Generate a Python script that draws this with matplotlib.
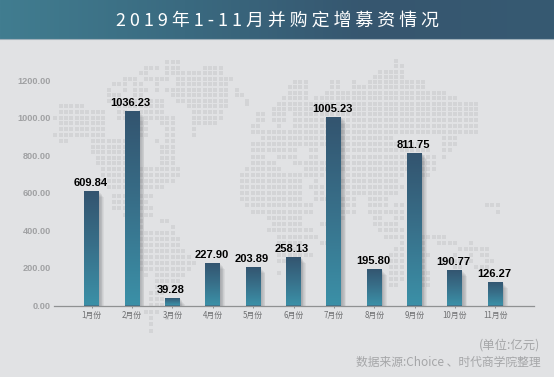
import numpy as np
import matplotlib
matplotlib.use("Agg")
import matplotlib.pyplot as plt
from matplotlib.colors import LinearSegmentedColormap

categories = ["1月份", "2月份", "3月份", "4月份", "5月份", "6月份", "7月份", "8月份", "9月份", "10月份", "11月份"]
values = [609.84, 1036.23, 39.28, 227.90, 203.89, 258.13, 1005.23, 195.80, 811.75, 190.77, 126.27]
labels = ["609.84", "1036.23", "39.28", "227.90", "203.89", "258.13", "1005.23", "195.80", "811.75", "190.77", "126.27"]
yticks = [0, 200, 400, 600, 800, 1000, 1200]
title = "2 0 1 9 年 1 - 1 1 月 并 购 定 增 募 资 情 况"
unit_note = "(单位:亿元)"
source_note = "数据来源:Choice 、时代商学院整理"

# decorative dot-matrix world map: (row y, spans of x), in image pixels
map_rows = [
    (60.7, [(163, 182)]), (66, [(143, 160), (163, 182), (205, 224)]),
    (71.7, [(137, 150), (163, 224)]), (77, [(122, 135), (143, 167), (175, 235)]),
    (82.5, [(111, 125), (132, 140), (153, 160), (175, 230)]),
    (88, [(106, 112), (122, 125), (132, 147), (153, 157), (163, 230), (236, 238)]),
    (93.5, [(106, 120), (132, 140), (170, 171), (178, 230), (236, 243)]),
    (99, [(106, 112), (117, 165), (178, 230), (247, 248)]),
    (104.5, [(58, 83), (117, 165), (185, 230)]),
    (110, [(58, 107), (117, 124), (140, 165), (190, 225)]),
    (116, [(53, 107), (117, 128), (145, 172), (190, 220)]),
    (121.5, [(58, 107), (140, 150), (158, 172), (190, 215)]),
    (127, [(58, 107), (140, 150), (163, 177), (190, 197)]),
    (133, [(53, 107), (140, 150), (163, 177), (190, 197)]),
    (139, [(58, 66), (90, 124), (153, 154), (163, 172)]),
    (145, [(90, 124), (158, 172)]), (150.5, [(90, 124), (158, 172)]),
    (156, [(95, 124), (158, 172)]), (161, [(95, 124), (158, 177)]),
    (167, [(100, 124), (140, 182)]), (173, [(100, 124), (140, 182)]),
    (179, [(100, 124), (140, 172)]), (185, [(107, 124), (140, 165)]),
    (194.5, [(110, 124), (140, 155)]), (200.5, [(110, 124), (140, 150)]),
    (206.5, [(110, 124), (140, 155)]), (213, [(120, 124), (140, 155)]),
    (219, [(140, 145), (158, 167)]), (225, [(140, 145), (168, 169)]),
    (231, [(140, 172)]), (237, [(140, 182)]), (243, [(140, 182)]),
    (249, [(140, 187)]), (255, [(140, 192)]), (261, [(140, 197)]),
    (267, [(140, 192)]), (273, [(143, 144), (153, 187)]), (279, [(153, 182)]),
    (285, [(153, 182)]), (291, [(148, 165)]), (297, [(148, 165)]), (303, [(148, 165)]),
    (310, [(143, 157)]), (316, [(148, 149), (165, 166)]), (322, [(148, 149)]), (329, [(148, 155)]),
    # Eurasia / Africa / Australia
    (59, [(393, 394)]), (64, [(392, 403)]), (70, [(377, 405)]), (75, [(372, 405)]),
    (80, [(292, 307), (329, 339), (350, 351), (367, 423)]),
    (85.6, [(287, 307), (329, 339), (350, 423)]),
    (91, [(287, 310), (325, 449)]), (96.5, [(282, 308), (312, 459)]),
    (102, [(247, 248), (277, 480)]), (107, [(271, 480)]),
    (112.5, [(256, 265), (271, 285), (292, 480)]), (118, [(256, 265), (271, 285), (292, 480)]),
    (124, [(251, 260), (277, 278), (292, 480)]), (130, [(251, 480)]),
    (136, [(261, 395), (445, 457)]), (142, [(251, 420), (445, 457)]),
    (148, [(251, 297), (308, 318), (340, 430), (445, 452)]),
    (155, [(251, 265), (277, 297), (308, 318), (340, 435), (445, 447)]),
    (161, [(251, 275), (292, 437)]), (167, [(245, 280), (302, 437)]),
    (173, [(240, 325), (345, 405), (423, 430)]),
    (179, [(240, 300), (312, 318), (340, 400)]),
    (185, [(240, 300), (308, 325), (340, 405)]),
    (191, [(240, 300), (315, 325), (345, 400)]),
    (197, [(241, 305), (315, 330), (342, 358), (370, 390)]),
    (203, [(247, 315), (342, 355), (366, 390), (397, 405), (487, 500)]),
    (210, [(252, 315), (342, 358), (366, 405), (497, 498)]),
    (216, [(267, 305), (342, 345), (372, 380), (392, 405)]),
    (222, [(271, 305), (320, 330), (372, 398)]),
    (228, [(266, 315), (380, 405)]),
    (235, [(277, 317), (382, 405), (423, 445)]),
    (241, [(277, 300), (320, 327), (402, 405), (423, 424), (435, 436), (445, 455), (467, 468)]),
    (247, [(277, 300), (397, 405), (423, 424), (457, 490)]),
    (253, [(277, 315), (388, 405), (423, 430), (455, 456), (467, 468), (480, 490)]),
    (259, [(277, 302), (388, 405), (423, 424), (445, 475), (485, 495)]),
    (265, [(388, 405), (423, 424), (452, 460), (475, 490)]),
    (271, [(277, 281), (388, 405), (423, 433)]),
    (277, [(388, 405), (423, 433)]),
    (283, [(388, 400), (423, 433)]),
]

W, H = 554, 377
plt.rcParams["font.family"] = ["Noto Sans CJK SC", "DejaVu Sans"]
fig = plt.figure(figsize=(W / 100, H / 100), dpi=100, facecolor="#e1e2e4")

bg = fig.add_axes([0, 0, 1, 1])
bg.set_xlim(0, W)
bg.set_ylim(H, 0)
bg.axis("off")
bar_cmap = LinearSegmentedColormap.from_list("hdr", ["#417d90", "#3a6a80", "#36566f", "#375a72"])
bg.imshow(np.linspace(0, 1, 256)[None, :], extent=(0, W, 39, 0), cmap=bar_cmap, aspect="auto", zorder=2)
bg.set_xlim(0, W)
bg.set_ylim(H, 0)
bg.plot([0, W], [39.3, 39.3], color="#9fb0ba", lw=0.8, zorder=3)
bg.text(277, 20.5, title, color="white", fontsize=12.9, ha="center", va="center", zorder=4)

PX, X0 = 5.33, 53.3
dx, dy = [], []
for y, spans in map_rows:
    for a, b in spans:
        i0 = int(round((a - X0) / PX))
        i1 = int(round((b - 4 - X0) / PX))
        for i in range(i0, max(i0, i1) + 1):
            dx.append(X0 + i * PX + 2)
            dy.append(y + 1.5)
bg.scatter(dx, dy, marker="s", s=7.2, color="#d3d4d6", linewidths=0, zorder=1)

bg.text(540.5, 345, unit_note, color="#a5a6a8", fontsize=8.9, ha="right", va="center")
bg.text(540.5, 362.7, source_note, color="#a5a6a8", fontsize=8.5, ha="right", va="center")

x_left, x_right, y_base, y_top = 53.7, 534.0, 305.5, 80.3
ax = fig.add_axes([x_left / W, 1 - y_base / H, (x_right - x_left) / W, (y_base - y_top) / H])
ax.patch.set_alpha(0)
x = np.arange(len(values))
unit = 40.36
ax.set_xlim((x_left - 91.7) / unit, (x_right - 91.7) / unit)
ax.set_ylim(0, 1200)
bar_w = 15 / unit
px_y = 1200 / (y_base - y_top)

# soft shadow: successively wider, shorter translucent bars
for k in range(6):
    heights = [max(v - (k + 1) * px_y, 0) for v in values]
    ax.bar(x + (0.8 + 0.4 * k) / unit, heights, width=bar_w + k * 0.8 / unit, color="#4a4f55",
           alpha=0.07, linewidth=0, zorder=1)

grad = LinearSegmentedColormap.from_list("bar", ["#33546f", "#38708a", "#3b90a7"])
bars = ax.bar(x, values, width=bar_w, color="#38708a", linewidth=0, zorder=2)
for rect, v in zip(bars, values):
    im = ax.imshow(np.linspace(0, 1, 128)[:, None], cmap=grad, aspect="auto", origin="upper",
                   extent=(rect.get_x(), rect.get_x() + rect.get_width(), 0, v), zorder=3)
    im.set_clip_path(rect)
ax.set_xlim((x_left - 91.7) / unit, (x_right - 91.7) / unit)
ax.set_ylim(0, 1200)

for xi, v, lab in zip(x, values, labels):
    ax.annotate(lab, (xi, v), xytext=(-1, 2.2), textcoords="offset points", ha="center", va="bottom",
                fontsize=8.0, fontweight="bold", family="Liberation Sans", color="black", zorder=5)

for s in ("top", "left", "right"):
    ax.spines[s].set_visible(False)
ax.spines["bottom"].set_color("#8f9192")
ax.spines["bottom"].set_linewidth(0.9)
ax.set_xticks(x, categories)
ax.set_yticks(yticks, [f"{t:.2f}" for t in yticks])
ax.tick_params(axis="x", length=1.6, width=0.7, color="#8f9192", labelcolor="#6f7072", labelsize=5.7, pad=2.4)
ax.tick_params(axis="y", length=0, labelcolor="#a0a1a3", labelsize=6.6, pad=2)
for t in ax.get_yticklabels():
    t.set_fontfamily("Liberation Sans")
    t.set_fontweight("bold")

fig.savefig("out.png", dpi=100, facecolor=fig.get_facecolor())
